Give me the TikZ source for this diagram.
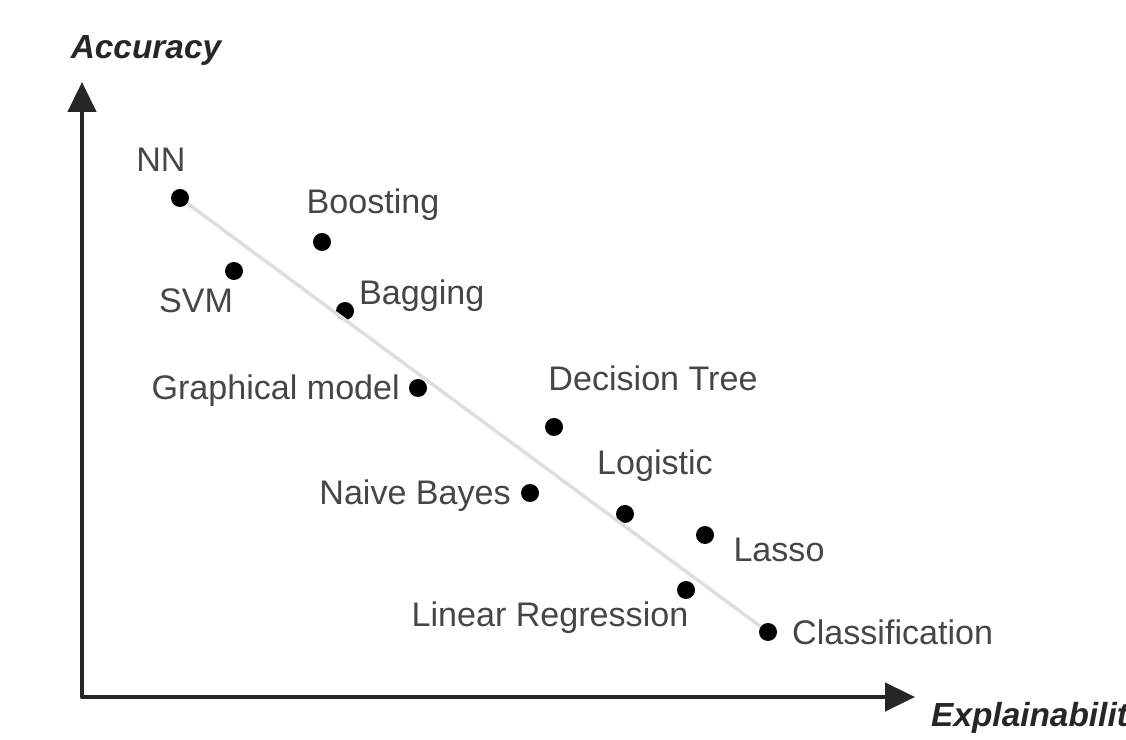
\documentclass[tikz,border=0pt]{standalone}
\usepackage{fontspec}
\setmainfont{Liberation Sans}
\usepackage{tikz}
\usetikzlibrary{positioning, arrows.meta, calc}
\definecolor{lbl_gray}{RGB}{70, 70, 70}
\definecolor{trend_gray}{RGB}{222, 222, 222}

\begin{document}
\begin{tikzpicture}[font=\fontsize{9.7}{11}\selectfont,
      >={Triangle[length=3mm, width=2.8mm]},
      axis/.style={line width=1.3pt, line join=round, black!85},
      dot/.style={circle, fill=black, inner sep=0pt, minimum size=1.8mm},
      lbl/.style={text=lbl_gray, inner sep=1pt},
      axlbl/.style={font=\fontsize{9.5}{11}\selectfont\bfseries\itshape, text=black!85, inner sep=1pt}]
    \useasboundingbox (0,0) rectangle (11.26,7.39);
    % axes
    \coordinate (o) at (0.82,0.42);
    \coordinate (ytip) at (0.82,6.57);
    \coordinate (xtip) at (9.15,0.42);
    \draw[axis, <->] (ytip) -- (o) -- (xtip);
    \node[axlbl] (acc) at (1.46,6.89) {Accuracy};
    \node[axlbl, anchor=west] (expl) at (9.27,0.21) {Explainability};
    % models
    \node[dot] (nn)     at (1.80,5.41) {};
    \node[dot] (boost)  at (3.22,4.97) {};
    \node[dot] (svm)    at (2.34,4.68) {};
    \node[dot] (bag)    at (3.45,4.28) {};
    \node[dot] (graph)  at (4.18,3.51) {};
    \node[dot] (tree)   at (5.54,3.12) {};
    \node[dot] (bayes)  at (5.30,2.46) {};
    \node[dot] (logit)  at (6.25,2.25) {};
    \node[dot] (lasso)  at (7.05,2.04) {};
    \node[dot] (linreg) at (6.86,1.49) {};
    \node[dot] (cls)    at (7.68,1.07) {};
    % trade-off line
    \draw[trend_gray, line width=1pt] (nn) -- (cls);
    % labels
    \node[lbl] (nn_l)     at (1.61,5.79) {NN};
    \node[lbl] (boost_l)  at (3.73,5.34) {Boosting};
    \node[lbl] (svm_l)    at (1.96,4.38) {SVM};
    \node[lbl, anchor=west] (bag_l) at (3.55,4.43) {Bagging};
    \node[lbl, anchor=east] (graph_l) at (4.04,3.48) {Graphical model};
    \node[lbl] (tree_l)   at (6.53,3.61) {Decision Tree};
    \node[lbl, anchor=east] (bayes_l) at (5.15,2.43) {Naive Bayes};
    \node[lbl] (logit_l)  at (6.55,2.73) {Logistic};
    \node[lbl] (lasso_l)  at (7.79,1.89) {Lasso};
    \node[lbl] (linreg_l) at (5.50,1.21) {Linear Regression};
    \node[lbl, anchor=west] (cls_l) at (7.88,1.07) {Classification};
  \end{tikzpicture}
\end{document}
